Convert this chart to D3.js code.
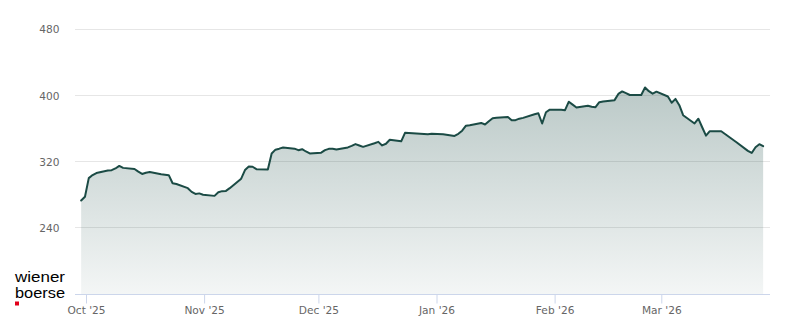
<!DOCTYPE html>
<html><head><meta charset="utf-8">
<script src="https://cdn.jsdelivr.net/npm/d3@7"></script>
<style>html,body{margin:0;padding:0;background:#fff;} svg{display:block;}</style>
</head><body>
<svg id="chart" width="800" height="324"></svg>
<script>
const dates = [
"2025-09-29","2025-09-30","2025-10-01","2025-10-02","2025-10-03",
"2025-10-06","2025-10-07","2025-10-08","2025-10-09","2025-10-10",
"2025-10-13","2025-10-14","2025-10-15","2025-10-16","2025-10-17",
"2025-10-20","2025-10-21","2025-10-22","2025-10-23","2025-10-24",
"2025-10-27","2025-10-28","2025-10-29","2025-10-30","2025-10-31",
"2025-11-03","2025-11-04","2025-11-05","2025-11-06","2025-11-07",
"2025-11-10","2025-11-11","2025-11-12","2025-11-13","2025-11-14",
"2025-11-17","2025-11-18","2025-11-19","2025-11-20","2025-11-21",
"2025-11-24","2025-11-25","2025-11-26","2025-11-27","2025-11-28",
"2025-12-01","2025-12-02","2025-12-03","2025-12-04","2025-12-05",
"2025-12-08","2025-12-09","2025-12-10","2025-12-11","2025-12-12",
"2025-12-15","2025-12-16","2025-12-17","2025-12-18","2025-12-19",
"2025-12-22","2025-12-23","2025-12-29","2025-12-30",
"2026-01-02","2026-01-05","2026-01-06","2026-01-07","2026-01-08","2026-01-09",
"2026-01-12","2026-01-13","2026-01-14","2026-01-15","2026-01-16",
"2026-01-19","2026-01-20","2026-01-21","2026-01-22","2026-01-23",
"2026-01-26","2026-01-27","2026-01-28","2026-01-29","2026-01-30",
"2026-02-02","2026-02-03","2026-02-04","2026-02-05","2026-02-06",
"2026-02-09","2026-02-10","2026-02-11","2026-02-12","2026-02-13",
"2026-02-16","2026-02-17","2026-02-18","2026-02-19","2026-02-20",
"2026-02-23","2026-02-24","2026-02-25","2026-02-26","2026-02-27",
"2026-03-02","2026-03-03","2026-03-04","2026-03-05","2026-03-06",
"2026-03-09","2026-03-10","2026-03-11","2026-03-12","2026-03-13",
"2026-03-16","2026-03-17","2026-03-18","2026-03-19","2026-03-20",
"2026-03-23","2026-03-24","2026-03-25","2026-03-26","2026-03-27"
];
const values = [
273.5,278.1,300.5,304.2,306.7,
309.7,310.1,312.2,315.3,312.9,
311.5,308.3,305.6,307.1,307.8,
305.3,304.7,304.1,294.4,293.4,
288.4,283.9,281.4,282.1,280.5,
279.1,283.5,284.8,285.1,288.4,
299.9,310.3,314.6,314.3,311.3,
311.0,330.3,334.9,336.1,337.5,
336.1,334.3,335.5,332.7,330.3,
331.3,334.3,335.9,336.0,335.0,
337.6,339.5,341.6,339.9,338.3,
342.7,344.3,340.0,342.0,346.8,
345.0,355.2,353.6,354.1,
353.6,351.5,354.0,357.8,363.8,364.5,
367.2,365.3,369.3,372.9,373.5,
374.3,370.5,370.5,372.3,373.3,
377.7,378.9,366.5,380.1,383.2,
383.0,382.6,392.8,389.3,385.8,
388.0,386.8,386.2,392.2,393.1,
394.7,402.2,405.2,403.1,400.9,
401.0,410.0,405.5,402.5,404.9,
399.1,391.6,396.2,388.6,376.5,
366.5,372.3,362.0,351.8,357.2,
357.2,353.8,350.5,347.2,343.9,
333.4,330.9,337.9,341.5,339.1
];
const yTicks = [240, 320, 400, 480];
const xTickDates = ["2025-10-01","2025-11-01","2025-12-01","2026-01-01","2026-02-01","2026-03-01"];
const xTickLabels = ["Oct '25","Nov '25","Dec '25","Jan '26","Feb '26","Mar '26"];
const logoLines = ["wiener", "boerse"];

const parse = d3.utcParse("%Y-%m-%d");
const closeOffset = 17.5 * 3600 * 1000; // points stamped at market close
const data = dates.map((d, i) => ({ t: new Date(parse(d).getTime() + closeOffset), v: values[i] }));

const plotLeft = 75, plotRight = 770;
const x = d3.scaleUtc().domain([parse("2025-10-01"), parse("2026-03-01")]).range([86, 661.3]);
const y = d3.scaleLinear().domain([160, 480]).range([294.5, 29.5]);

const svg = d3.select("#chart");
const fontAxis = "'DejaVu Sans', Verdana, sans-serif";

const defs = svg.append("defs");
const grad = defs.append("linearGradient").attr("id", "areaGrad")
  .attr("x1", 0).attr("y1", 0).attr("x2", 0).attr("y2", 1);
grad.append("stop").attr("offset", "0%").attr("stop-color", "#1b4b45").attr("stop-opacity", 0.3);
grad.append("stop").attr("offset", "100%").attr("stop-color", "#1b4b45").attr("stop-opacity", 0.05);

// grid
svg.append("g").selectAll("line").data(yTicks).join("line")
  .attr("x1", plotLeft).attr("x2", plotRight)
  .attr("y1", d => Math.round(y(d)) - 0.5).attr("y2", d => Math.round(y(d)) - 0.5)
  .attr("stroke", "#e6e6e6").attr("stroke-width", 1);

svg.append("g").selectAll("text").data(yTicks).join("text")
  .attr("x", 59.5).attr("y", d => y(d) + 3.8)
  .attr("text-anchor", "end")
  .attr("font-family", fontAxis).attr("font-size", "10.6px").attr("fill", "#666666")
  .text(d => d);

// area + line
const area = d3.area().x(d => x(d.t)).y0(y(160)).y1(d => y(d.v));
const line = d3.line().x(d => x(d.t)).y(d => y(d.v));
svg.append("path").datum(data).attr("d", area).attr("fill", "url(#areaGrad)");
svg.append("path").datum(data).attr("d", line)
  .attr("fill", "none").attr("stroke", "#1b4b45").attr("stroke-width", 2)
  .attr("stroke-linejoin", "round").attr("stroke-linecap", "round");

// x axis
svg.append("line").attr("x1", plotLeft).attr("x2", plotRight)
  .attr("y1", 294.5).attr("y2", 294.5).attr("stroke", "#ccd6eb");
const xAxis = d3.axisBottom(x)
  .tickValues(xTickDates.map(parse))
  .tickFormat((d, i) => xTickLabels[i])
  .tickSize(9).tickPadding(3);
const gx = svg.append("g").attr("transform", "translate(0,294.5)").call(xAxis);
gx.select(".domain").remove();
gx.selectAll(".tick line").attr("stroke", "#ccd6eb");
gx.selectAll(".tick text").attr("font-family", fontAxis).attr("font-size", "10.6px").attr("fill", "#666666");

// logo
const logoFont = "'Liberation Sans', Arial, Helvetica, sans-serif";
svg.append("g").selectAll("text").data(logoLines).join("text")
  .attr("x", 15).attr("y", (d, i) => 281.5 + i * 16)
  .attr("font-family", logoFont).attr("font-size", "14px").attr("fill", "#000")
  .attr("textLength", 50).attr("lengthAdjust", "spacingAndGlyphs")
  .text(d => d);
svg.append("rect").attr("x", 15).attr("y", 301.5).attr("width", 4).attr("height", 4).attr("fill", "#e2001a");
</script>
</body></html>
